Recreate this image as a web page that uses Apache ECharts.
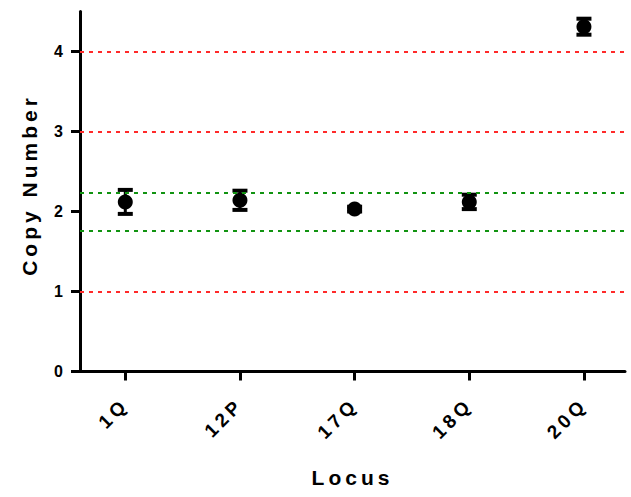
<!DOCTYPE html>
<html>
<head>
<meta charset="utf-8">
<script src="https://cdn.jsdelivr.net/npm/echarts@6/dist/echarts.min.js"></script>
<style>
html,body{margin:0;padding:0;background:#fff;}
#chart{width:631px;height:497px;}
text[style*="SpacedTitle"]{letter-spacing:4px;}
text[style*="SpacedTick"]{letter-spacing:4px;}
</style>
</head>
<body>
<div id="chart"></div>
<script>
// ---- data ----
const categories = ['1Q', '12P', '17Q', '18Q', '20Q'];
const copyNumber = [2.12, 2.14, 2.03, 2.12, 4.31];
const errorSD = [0.15, 0.12, 0.03, 0.09, 0.10];
const yTicks = [0, 1, 2, 3, 4];
const redLines = [1, 3, 4];
const greenLines = [1.76, 2.24];
const xTitle = 'Locus';
const yTitle = 'Copy Number';

const idx = categories.map((c, i) => i);
const pts = categories.map((c, i) => [i, copyNumber[i], errorSD[i]]);

const titleFont = 'SpacedTitle, Liberation Sans, Arial';
const tickFont = 'SpacedTick, Liberation Sans, Arial';
const plainFont = 'Liberation Sans, Arial';

const chart = echarts.init(document.getElementById('chart'), null, {renderer: 'svg'});
chart.setOption({
  animation: false,
  backgroundColor: '#fff',
  grid: {left: 80, right: 6, top: 11.5, bottom: 125.5, containLabel: false, outerBoundsMode: 'none'},
  xAxis: {
    type: 'value', min: -0.395, max: 4.358,
    name: xTitle, nameLocation: 'middle', nameGap: 95,
    nameTextStyle: {fontFamily: titleFont, fontWeight: 'bold', fontSize: 21, color: '#000'},
    axisLine: {show: true, onZero: false, lineStyle: {color: '#000', width: 3}},
    axisTick: {show: true, length: 9, customValues: idx, lineStyle: {color: '#000', width: 3}},
    axisLabel: {
      customValues: idx, rotate: 45, margin: 30,
      fontFamily: tickFont, fontWeight: 'bold', fontSize: 19, color: '#000',
      formatter: v => categories[Math.round(v)] || ''
    },
    splitLine: {show: false}
  },
  yAxis: {
    type: 'value', min: 0, max: 4.5,
    name: yTitle, nameLocation: 'middle', nameGap: 40,
    nameTextStyle: {fontFamily: titleFont, fontWeight: 'bold', fontSize: 21, color: '#000', padding: [0, 0, 0, 13]},
    axisLine: {show: true, onZero: false, lineStyle: {color: '#000', width: 3}},
    axisTick: {show: true, length: 9, customValues: yTicks, lineStyle: {color: '#000', width: 3}},
    axisLabel: {customValues: yTicks, margin: 17, fontFamily: plainFont, fontWeight: 'bold', fontSize: 16, color: '#000'},
    splitLine: {show: false}
  },
  series: [
    {type: 'line', data: [], silent: true,
      markLine: {silent: true, symbol: 'none', label: {show: false},
        lineStyle: {color: '#ff2a2a', width: 2, type: [4, 5]},
        data: redLines.map(v => ({yAxis: v}))}},
    {type: 'line', data: [], silent: true,
      markLine: {silent: true, symbol: 'none', label: {show: false},
        lineStyle: {color: '#119311', width: 2, type: [4, 5]},
        data: greenLines.map(v => ({yAxis: v}))}},
    {type: 'custom', data: pts, z: 3,
      renderItem: function (params, api) {
        const x = api.value(0), y = api.value(1), e = api.value(2);
        const top = api.coord([x, y + e]);
        const bot = api.coord([x, y - e]);
        const hw = 7.5;
        const st = {stroke: '#000', lineWidth: 3};
        const cap = {stroke: '#000', lineWidth: 4};
        return {type: 'group', children: [
          {type: 'line', shape: {x1: top[0], y1: top[1], x2: bot[0], y2: bot[1]}, style: st},
          {type: 'line', shape: {x1: top[0] - hw, y1: top[1], x2: top[0] + hw, y2: top[1]}, style: cap},
          {type: 'line', shape: {x1: bot[0] - hw, y1: bot[1], x2: bot[0] + hw, y2: bot[1]}, style: cap}
        ]};
      }},
    {type: 'scatter', data: pts.map(p => [p[0], p[1]]), symbol: 'circle', symbolSize: 15, z: 4,
      itemStyle: {color: '#000', opacity: 1}}
  ]
});
</script>
</body>
</html>
